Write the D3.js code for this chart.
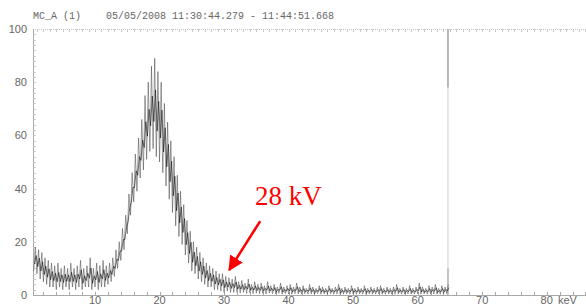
<!DOCTYPE html>
<html>
<head>
<meta charset="utf-8">
<script src="https://cdn.jsdelivr.net/npm/d3@7"></script>
<style>
  body { margin: 0; background: #fff; }
  svg { display: block; }
</style>
</head>
<body>
<svg id="chart" width="586" height="305"></svg>
<script>
// spectrum channels, 0.5 keV wide, first one at 0.5 keV
var channelStart = 0.5, channelStep = 0.5;
var countsHi = [
  18, 17, 16, 14, 13, 12, 11, 12, 10, 11,
  10, 12, 10, 11, 13, 10, 11, 14, 10, 12,
  11, 13, 11, 12, 14, 17, 20, 25, 30, 38,
  46, 53, 59, 66, 75, 80, 86, 89, 84, 80,
  72, 65, 58, 52, 45, 39, 34, 28, 24, 20,
  18, 16, 14, 12, 11, 10, 9, 8, 8, 7,
  6.5, 6, 7, 5, 5.5, 4.5, 6, 4, 5, 4,
  4.5, 3.5, 5, 3.5, 4, 3, 4.5, 3, 3.5, 4,
  3, 4.5, 3, 3.5, 2.5, 4, 3, 2.5, 3.5, 3,
  2.5, 3.5, 2.5, 3, 4, 2.5, 3, 2.5, 3.5, 2.5,
  3, 2.5, 3.5, 2.5, 3, 2.5, 3, 3.5, 2.5, 3,
  2.5, 3, 4, 2.5, 3, 2.5, 3.5, 2.5, 3, 4.5,
  3, 2.5, 3.5, 3, 4, 2.5, 3.5, 3, 4
];
var countsLo = [
  9, 8, 6, 5, 4, 3, 3, 2, 3, 2,
  3, 2, 3, 2, 3, 2, 3, 3, 2, 3,
  2, 3, 3, 4, 5, 7, 10, 13, 17, 23,
  30, 35, 39, 44, 47, 51, 54, 55, 52, 50,
  46, 41, 36, 31, 26, 22, 19, 15, 12, 9,
  8, 6, 5, 4, 3, 3, 2, 2, 1.5, 1,
  1.5, 1, 1, 1, 0.8, 1, 0.6, 0.8, 0.5, 0.7,
  0.5, 0.6, 0.4, 0.7, 0.5, 0.4, 0.6, 0.3, 0.5, 0.4,
  0.3, 0.5, 0.4, 0.3, 0.5, 0.3, 0.4, 0.3, 0.5, 0.3,
  0.4, 0.3, 0.5, 0.3, 0.4, 0.3, 0.3, 0.4, 0.3, 0.4,
  0.3, 0.4, 0.3, 0.3, 0.4, 0.3, 0.3, 0.4, 0.3, 0.3,
  0.4, 0.3, 0.3, 0.4, 0.3, 0.3, 0.4, 0.3, 0.3, 0.4,
  0.3, 0.4, 0.3, 0.3, 0.4, 0.3, 0.3, 0.4, 0.5
];
var xTicks = [10, 20, 30, 40, 50, 60, 70, 80];
var yTicks = [0, 20, 40, 60, 80, 100];
var markerKeV = 64.7;
var title = "MC_A (1)";
var timeRange = "05/05/2008 11:30:44.279 - 11:44:51.668";
var note = { text: "28 kV", x: 34.8, y: 33.8, tailX: 35.6, tailY: 27.8, tipX: 30.8, tipY: 9.4 };

var svg = d3.select("#chart");
var x = d3.scaleLinear().domain([0, 80]).range([30.5, 546.7]);
var y = d3.scaleLinear().domain([0, 100]).range([295, 29]);
var left = 33, right = 586;

var axisColor = "#a8a8a8";

// frame
svg.append("line").attr("x1", left).attr("x2", right).attr("y1", 29.5).attr("y2", 29.5)
  .attr("stroke", "#c8c8c8").attr("stroke-dasharray", "1,1");
svg.append("line").attr("x1", left).attr("x2", right).attr("y1", 295.5).attr("y2", 295.5)
  .attr("stroke", axisColor);
svg.append("line").attr("x1", left + 0.5).attr("x2", left + 0.5).attr("y1", 29).attr("y2", 296)
  .attr("stroke", axisColor);

// minor ticks
svg.append("g").selectAll("line").data(d3.range(1, 87, 1)).join("line")
  .attr("x1", function(d) { return Math.round(x(d)) + 0.5; })
  .attr("x2", function(d) { return Math.round(x(d)) + 0.5; })
  .attr("y1", 29).attr("y2", 32).attr("stroke", "#c8c8c8");
svg.append("g").selectAll("line").data(d3.range(2, 87, 2)).join("line")
  .attr("x1", function(d) { return Math.round(x(d)) + 0.5; })
  .attr("x2", function(d) { return Math.round(x(d)) + 0.5; })
  .attr("y1", 292).attr("y2", 295).attr("stroke", axisColor);
svg.append("g").selectAll("line").data(d3.range(2, 100, 2)).join("line")
  .attr("x1", left).attr("x2", left + 3)
  .attr("y1", function(d) { return Math.round(y(d)) + 0.5; })
  .attr("y2", function(d) { return Math.round(y(d)) + 0.5; })
  .attr("stroke", "#c8c8c8");

// tick labels
svg.append("g").selectAll("text").data(yTicks).join("text")
  .attr("x", 27).attr("y", function(d) { return y(d) + 4; })
  .attr("text-anchor", "end")
  .attr("font-family", "Liberation Sans, Arial, sans-serif").attr("font-size", 11)
  .attr("fill", "#666").text(function(d) { return d; });
svg.append("g").selectAll("text").data(xTicks).join("text")
  .attr("x", function(d) { return x(d); }).attr("y", 304)
  .attr("text-anchor", "middle")
  .attr("font-family", "Liberation Sans, Arial, sans-serif").attr("font-size", 11)
  .attr("fill", "#666").text(function(d) { return d; });
svg.append("text").attr("x", 558).attr("y", 304)
  .attr("font-family", "Liberation Sans, Arial, sans-serif").attr("font-size", 11)
  .attr("fill", "#666").text("keV");

// title
svg.append("text").attr("x", 33).attr("y", 19)
  .attr("font-family", "Liberation Mono, Courier New, monospace").attr("font-size", 10)
  .attr("fill", "#666").text(title);
svg.append("text").attr("x", 106).attr("y", 19)
  .attr("font-family", "Liberation Mono, Courier New, monospace").attr("font-size", 10)
  .attr("fill", "#666").text(timeRange);

// marker line
svg.append("line").attr("x1", x(markerKeV)).attr("x2", x(markerKeV))
  .attr("y1", y(100)).attr("y2", y(0)).attr("stroke", "#d8d8d8").attr("stroke-width", 1.2);
svg.append("line").attr("x1", x(markerKeV)).attr("x2", x(markerKeV))
  .attr("y1", y(100)).attr("y2", y(78)).attr("stroke", "#999").attr("stroke-width", 1.2);
svg.append("line").attr("x1", x(markerKeV)).attr("x2", x(markerKeV))
  .attr("y1", y(10)).attr("y2", y(0)).attr("stroke", "#aaa").attr("stroke-width", 1.2);

// spectrum: zigzag between low and high counts of each channel
var pts = [];
countsHi.forEach(function(h, i) {
  var e = channelStart + i * channelStep;
  pts.push([e, countsLo[i]]);
  pts.push([e + channelStep / 2, h]);
});
var line = d3.line().x(function(d) { return x(d[0]); }).y(function(d) { return y(d[1]); });
svg.append("path").datum(pts).attr("d", line)
  .attr("fill", "none").attr("stroke", "#444").attr("stroke-width", 0.8).attr("stroke-opacity", 0.65);

var core = [];
countsHi.forEach(function(h, i) {
  var e = channelStart + i * channelStep, lo = countsLo[i], span = h - lo;
  core.push([e + channelStep / 4, lo + span * 0.3]);
  core.push([e + channelStep * 3 / 4, h - span * 0.35]);
});
svg.append("path").datum(core).attr("d", line)
  .attr("fill", "none").attr("stroke", "#000").attr("stroke-width", 0.9).attr("stroke-opacity", 0.6);

// annotation
svg.append("defs").append("marker").attr("id", "head")
  .attr("viewBox", "0 0 10 10").attr("refX", 9).attr("refY", 5)
  .attr("markerWidth", 6).attr("markerHeight", 6).attr("orient", "auto")
  .attr("markerUnits", "strokeWidth")
  .append("path").attr("d", "M0,0 L10,5 L0,10 z").attr("fill", "#ff0000");
svg.append("line")
  .attr("x1", x(note.tailX)).attr("y1", y(note.tailY))
  .attr("x2", x(note.tipX)).attr("y2", y(note.tipY))
  .attr("stroke", "#ff0000").attr("stroke-width", 2.5).attr("marker-end", "url(#head)");
svg.append("text").attr("x", x(note.x)).attr("y", y(note.y))
  .attr("font-family", "Liberation Serif, Times New Roman, serif").attr("font-size", 27)
  .attr("fill", "#ff0000").text(note.text);
</script>
</body>
</html>
